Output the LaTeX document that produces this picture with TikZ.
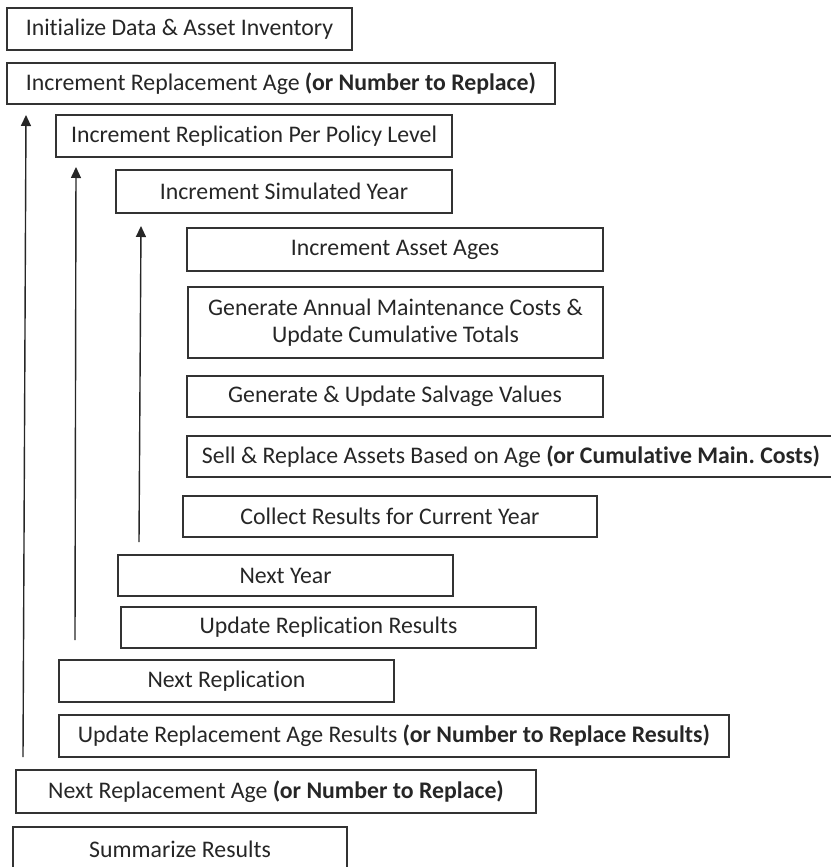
\documentclass[tikz,border=0pt]{standalone}
\usepackage{fontspec}
\setmainfont[Ligatures={NoCommon}]{Carlito}
\usepackage{tikz}
\usetikzlibrary{
  arrows.meta,
  }
\frenchspacing

\begin{document}
\begin{tikzpicture}[x=1pt, y=-1pt,
                every node/.style={rectangle, draw=black!80, line width=1.3pt, anchor=north west,
                    inner sep=0pt, outer sep=0pt, align=center, text=black!85,
                    font=\fontsize{23.8}{27}\selectfont},
                loopback/.style={draw=black!85, line width=1.4pt, -{Triangle[length=11pt, width=10pt]}}]
                \useasboundingbox (0,0) rectangle (830,867);

                \node[minimum width=345pt, minimum height=42pt] (init) at (7,8) {Initialize Data \& Asset Inventory};
                \node[minimum width=548pt, minimum height=41pt] (incage) at (7,63)
                    {Increment Replacement Age \textbf{(or Number to Replace)}};
                \node[minimum width=396pt, minimum height=42pt] (increp) at (56,115) {Increment Replication Per Policy Level};
                \node[minimum width=336pt, minimum height=43pt] (incyear) at (116,170) {Increment Simulated Year};
                \node[minimum width=416pt, minimum height=43pt] (ages) at (187,228) {Increment Asset Ages};
                \node[minimum width=415pt, minimum height=71pt] (maint) at (188,287)
                    {Generate Annual Maintenance Costs \&\\Update Cumulative Totals};
                \node[minimum width=416pt, minimum height=41pt] (salv) at (187,376) {Generate \& Update Salvage Values};
                \node[minimum width=648pt, minimum height=41pt] (sell) at (187,436)
                    {Sell \& Replace Assets Based on Age \textbf{(or Cumulative Main. Costs)}};
                \node[minimum width=414pt, minimum height=41pt] (collect) at (183,496) {Collect Results for Current Year};
                \node[minimum width=335pt, minimum height=41pt] (nextyear) at (118,555) {Next Year};
                \node[minimum width=415pt, minimum height=41pt] (updrep) at (121,607) {Update Replication Results};
                \node[minimum width=335pt, minimum height=42pt] (nextrep) at (59,660) {Next Replication};
                \node[minimum width=670pt, minimum height=42pt] (updage) at (59,715)
                    {Update Replacement Age Results \textbf{(or Number to Replace Results)}};
                \node[minimum width=520pt, minimum height=43pt] (nextage) at (16,770)
                    {Next Replacement Age \textbf{(or Number to Replace)}};
                \node[minimum width=334pt, minimum height=45pt] (summ) at (13,827) {Summarize Results};

                \coordinate (a1s) at (23,757);
                \coordinate (a1e) at (26,115);
                \coordinate (a2s) at (75,640);
                \coordinate (a2e) at (76,167);
                \coordinate (a3s) at (139,542);
                \coordinate (a3e) at (141,226);

                \draw[loopback] (a1s) -- (a1e);
                \draw[loopback] (a2s) -- (a2e);
                \draw[loopback] (a3s) -- (a3e);

            \end{tikzpicture}
\end{document}
